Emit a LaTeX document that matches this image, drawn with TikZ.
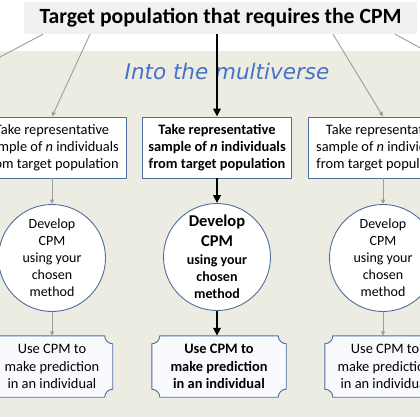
\documentclass[tikz,border=0pt]{standalone}
\usepackage{fontspec}
\setmainfont{Carlito}
\newfontfamily\handfont{DejaVu Sans}
\usetikzlibrary{arrows.meta,calc}
\pgfdeclarelayer{back}
\pgfdeclarelayer{mid}
\pgfsetlayers{back,mid,main}
\definecolor{beige}{HTML}{EDECE2}
\definecolor{titlegray}{HTML}{F1F1F1}
\definecolor{boxblue}{HTML}{4E6E9E}
\definecolor{handblue}{HTML}{4472C4}
\definecolor{linegray}{HTML}{9C9C9C}
\definecolor{plaquefill}{HTML}{F8FAFD}
\newcommand\fsz[2]{\fontsize{#1}{#2}\selectfont}
\newcommand\plaque[1]{%
  \draw[boxline,fill=plaquefill]
   ($(#1.north west)+(8,0)$) -- ($(#1.north east)+(-8,0)$)
   .. controls ($(#1.north east)+(-8,4.4)$) and ($(#1.north east)+(-4.4,8)$) .. ($(#1.north east)+(0,8)$)
   -- ($(#1.south east)+(0,-8)$)
   .. controls ($(#1.south east)+(-4.4,-8)$) and ($(#1.south east)+(-8,-4.4)$) .. ($(#1.south east)+(-8,0)$)
   -- ($(#1.south west)+(8,0)$)
   .. controls ($(#1.south west)+(8,-4.4)$) and ($(#1.south west)+(4.4,-8)$) .. ($(#1.south west)+(0,-8)$)
   -- ($(#1.north west)+(0,8)$)
   .. controls ($(#1.north west)+(4.4,8)$) and ($(#1.north west)+(8,4.4)$) .. ($(#1.north west)+(8,0)$)
   -- cycle;}
\tikzset{
 boxline/.style={draw=boxblue, line width=0.9pt},
 sbox/.style={boxline, fill=white, minimum width=149pt, minimum height=61pt, align=center, inner sep=0pt, font=\fsz{14.4}{17}},
 cnode/.style={circle, boxline, fill=white, minimum size=107pt, inner sep=0pt, align=center, font=\fsz{14}{17}},
 unode/.style={minimum height=61pt, inner sep=0pt, align=center, font=\fsz{14.4}{17.5}},
 garrow/.style={draw=linegray, line width=0.9pt, -{Triangle[length=4.5pt,width=4pt]}},
 barrow/.style={draw=black, line width=2.4pt, -{Triangle[length=8pt,width=7.5pt]}},
 glink/.style={draw=linegray, line width=0.9pt},
}
\begin{document}
\begin{tikzpicture}[x=1pt,y=-1pt]
\useasboundingbox (0,0) rectangle (420,420);
\clip (0,0) rectangle (420,420);
\begin{pgfonlayer}{back}
\fill[beige] (0,51) rectangle (420,417);
\end{pgfonlayer}
\node[fill=titlegray, minimum width=393pt, minimum height=32pt, inner sep=0pt,
      font=\bfseries\fsz{21.7}{26}] (title) at (220.5,18) {Target population that requires the CPM\hspace{11pt}};
\node[font=\handfont\itshape\fsz{21.5}{25}, text=handblue, inner sep=0pt] (into) at (227,71) {Into the multiverse};
\coordinate (farL) at (-113,117);
\coordinate (farR) at (548,117);
% sample boxes
\node[sbox] (sL) at (52,147.5) {Take representative\\sample of \textit{n} individuals\\from target population};
\node[sbox, font=\bfseries\fsz{14.4}{17}] (sM) at (217,147.5) {Take representative\\sample of \textit{n} individuals\\from target population};
\node[sbox] (sR) at (383,147.5) {Take representative\\sample of \textit{n} individuals\\from target population};
% circles
\node[cnode] (cL) at (52,258) {Develop\\CPM\\using your\\chosen\\method};
\node[cnode, font=\bfseries\fsz{14}{17}] (cM) at (217,257) {{\fsz{16.5}{20}Develop}\\[3pt]{\fsz{16.5}{20}CPM}\\[1pt]using your\\chosen\\method};
\node[cnode] (cR) at (383,258) {Develop\\CPM\\using your\\chosen\\method};
% use boxes
\node[unode, minimum width=121pt] (uL) at (52,366.5) {Use CPM to\\make prediction\\in an individual};
\node[unode, minimum width=134pt, font=\bfseries\fsz{14.4}{17.5}] (uM) at (219,366.5) {Use CPM to\\make prediction\\in an individual};
\node[unode, minimum width=120pt] (uR) at (385,366.5) {Use CPM to\\make prediction\\in an individual};
\begin{pgfonlayer}{mid}
\plaque{uL}
\plaque{uM}
\plaque{uR}
\end{pgfonlayer}
% connectors from title
\draw[glink] ([xshift=-177.5pt]title.south) -- (farL);
\draw[garrow] ([xshift=-130.5pt]title.south) -- (sL.north);
\draw[barrow] ([xshift=-3.5pt]title.south) -- (sM.north);
\draw[garrow] ([xshift=112.5pt]title.south) -- (sR.north);
\draw[glink] ([xshift=174.5pt]title.south) -- (farR);
% columns
\draw[garrow] (sL.south) -- (cL.north);
\draw[barrow] (sM.south) -- (cM.north);
\draw[garrow] (sR.south) -- (cR.north);
\draw[garrow] (cL.south) -- (cL.south |- uL.north);
\draw[barrow] (cM.south) -- (cM.south |- uM.north);
\draw[garrow] (cR.south) -- (cR.south |- uR.north);
\end{tikzpicture}
\end{document}
